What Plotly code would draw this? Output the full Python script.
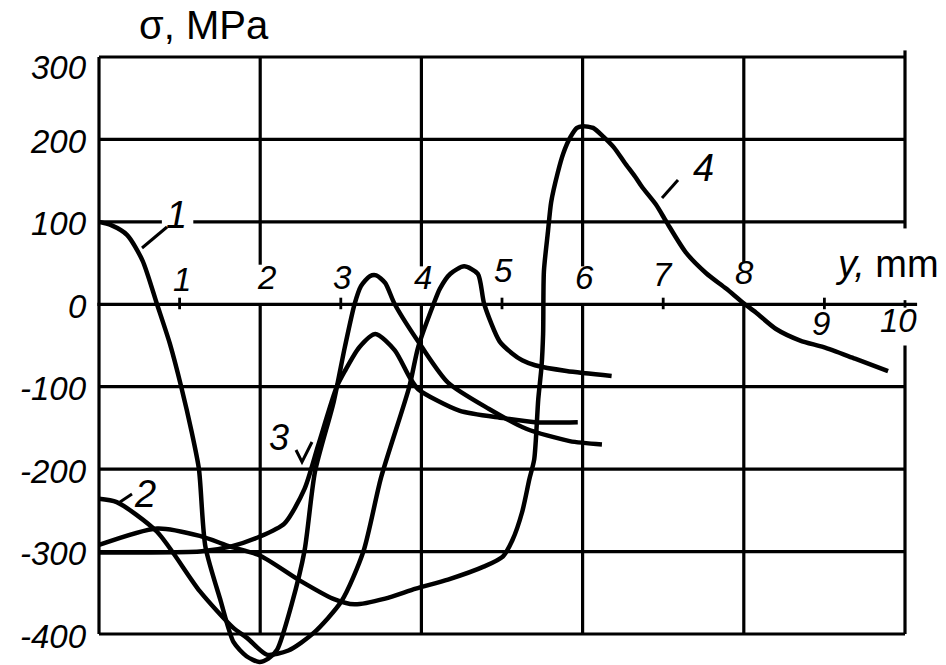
import plotly.graph_objects as go

# ---------------- data ----------------
c1_x = [0, 0.15, 0.35, 0.54, 0.72, 0.88, 1.02, 1.15, 1.24, 1.32, 1.51, 1.67, 1.83, 1.99, 2.1, 2.21,
        2.39, 2.55, 2.68, 2.91, 3.05, 3.17, 3.25, 3.36, 3.44, 3.55, 3.67, 4.0, 4.33, 4.84, 5.3,
        5.84, 6.24]
c1_y = [100, 96, 84, 53, 0, -48, -100, -155, -200, -294, -360, -410, -427, -434, -430, -419,
        -364, -299, -203, -119, -52, 0, 22, 34, 35, 26, 0, -51, -95, -127, -151,
        -166, -170]

c2_x = [0, 0.22, 0.72, 1.25, 1.66, 1.84, 2.08, 2.35, 2.66, 3.01, 3.28, 3.5, 3.85, 3.96, 4.15,
        4.23, 4.36, 4.53, 4.7, 4.78, 4.97, 5.13, 5.25, 5.41, 5.8, 6.36]
c2_y = [-236, -240, -276, -348, -392, -405, -425, -420, -399, -360, -300, -210, -100, -52, 0,
        19, 37, 46, 37, 0, -45, -60, -68, -74, -81, -87]

c3_x = [0, 0.5, 1.25, 1.63, 1.99, 2.3, 2.55, 2.72, 2.95, 3.05, 3.23, 3.43, 3.67, 3.85, 3.96,
        4.47, 5.01, 5.41, 5.94]
c3_y = [-301, -301, -300, -294, -282, -266, -224, -171, -100, -81, -52, -36, -56, -88, -103,
        -129, -138, -143, -143]

c4_x = [0, 0.72, 1.25, 1.63, 2.0, 2.49, 2.9, 3.17, 3.55, 3.93, 4.33, 4.78, 5.01, 5.13, 5.25,
        5.34, 5.4, 5.45, 5.49, 5.51, 5.52, 5.57, 5.61, 5.69, 5.76, 5.85, 5.93, 6.0, 6.13, 6.26,
        6.39, 6.52, 6.65, 6.74, 6.91, 7.04, 7.28, 7.53, 7.78, 7.99, 8.15, 8.4, 8.7, 8.99, 9.38, 9.79]
c4_y = [-292, -272, -281, -294, -305, -335, -357, -364, -357, -345, -334, -318, -306, -286, -252,
        -212, -188, -115, -76, -36, 40, 88, 124, 159, 183, 203, 214, 216, 214, 203,
        190, 172, 155, 142, 121, 100, 63, 38, 19, 2, -10, -30, -44, -52, -66, -81]

curves = [(c1_x, c1_y), (c2_x, c2_y), (c3_x, c3_y), (c4_x, c4_y)]

y_ticks = [300, 200, 100, 0, -100, -200, -300, -400]
y_tick_labels = ["300", "200", "100", "0", "-100", "-200", "-300", "-400"]
x_ticks = [1, 2, 3, 4, 5, 6, 7, 8, 9, 10]
x_tick_labels = ["1", "2", "3", "4", "5", "6", "7", "8", "9", "10"]

# ---------------- geometry helpers ----------------
W, H = 946, 665
X0PX, X10PX = 99, 905
Y300PX, YM400PX = 57, 634
sx = (X10PX - X0PX) / 10.0
sy = (YM400PX - Y300PX) / 700.0
x_range = [-X0PX / sx, (W - X0PX) / sx]
y_range = [300 - (H - Y300PX) / sy, 300 + Y300PX / sy]


def px(xp):
    return xp / W


def py(yp):
    return 1 - yp / H


FONT = "Liberation Sans, Arial, sans-serif"
INK = "black"

fig = go.Figure()
for cx, cy in curves:
    fig.add_trace(go.Scatter(x=cx, y=cy, mode="lines",
                             line=dict(color=INK, width=4.5, shape="spline", smoothing=0.7),
                             hoverinfo="skip", showlegend=False))

shapes = []


def seg(x0, y0, x1, y1, w=3.2, ref="data"):
    if ref == "data":
        shapes.append(dict(type="line", xref="x", yref="y", x0=x0, y0=y0, x1=x1, y1=y1,
                           line=dict(color=INK, width=w)))
    else:
        shapes.append(dict(type="line", xref="paper", yref="paper",
                           x0=px(x0), y0=py(y0), x1=px(x1), y1=py(y1),
                           line=dict(color=INK, width=w)))


# horizontal grid lines
for v in [300, 200, -100, -200, -300, -400]:
    seg(0, v, 10, v)
seg(0, 100, 0.78, 100)
seg(1.17, 100, 10, 100)
seg(-0.02, 0, 10.15, 0)
# vertical grid lines
seg(0, 300, 0, -400)
for xv, top in [(2, 48), (4, 46), (6, 46), (8, 50)]:
    seg(xv, 300, xv, top)
    seg(xv, 0, xv, -400)
seg(10, 308, 10, 92)
seg(10, -50, 10, -400)
# odd ticks on the zero line
for xv in [1, 3, 5, 7, 9]:
    seg(xv, 8, xv, -6, w=2.8)
seg(10, 5, 10, -4, w=2.8)

# leader lines for curve labels (pixel positions)
seg(142, 248, 167, 227, w=3, ref="paper")
seg(120, 502, 132, 494, w=3, ref="paper")
seg(662, 198, 678, 180, w=3, ref="paper")
shapes.append(dict(type="path", xref="paper", yref="paper",
                   path=f"M {px(296)},{py(450)} L {px(302)},{py(462)} L {px(312)},{py(442)}",
                   line=dict(color=INK, width=3)))

annotations = []


def label(text, xp, yp, size, xanchor="center", italic=True):
    t = f"<i>{text}</i>" if italic else text
    annotations.append(dict(text=t, xref="paper", yref="paper", x=px(xp), y=py(yp),
                            xanchor=xanchor, yanchor="middle", showarrow=False,
                            font=dict(family=FONT, size=size, color=INK)))


# y tick labels
for v, t in zip(y_ticks, y_tick_labels):
    yp = Y300PX + (300 - v) * sy
    if v == 300:
        yp += 8
    label(t, 89, yp + 2, 33, xanchor="right")

# x tick labels
x_label_px = {1: (182, 279), 2: (266, 277), 3: (342, 277), 4: (423, 277), 5: (503, 270),
              6: (584, 277), 7: (663, 275), 8: (744, 273), 9: (821, 324), 10: (898, 320)}
for v, t in zip(x_ticks, x_tick_labels):
    xp, yp = x_label_px[v]
    label(t, xp, yp, 33)

# curve labels
label("1", 176, 215, 38)
label("2", 145, 494, 38)
label("3", 279, 437, 36)
label("4", 703, 168, 38)

# axis titles
label("σ, MPa", 204, 25, 40, italic=False)
annotations.append(dict(text="<i>y,</i> mm", xref="paper", yref="paper", x=px(887), y=py(264),
                        xanchor="center", yanchor="middle", showarrow=False,
                        font=dict(family=FONT, size=38, color=INK)))

fig.update_layout(
    width=W, height=H,
    margin=dict(l=0, r=0, t=0, b=0),
    paper_bgcolor="white", plot_bgcolor="white",
    xaxis=dict(range=x_range, visible=False, fixedrange=True),
    yaxis=dict(range=y_range, visible=False, fixedrange=True),
    shapes=shapes, annotations=annotations,
    showlegend=False,
)

fig.write_html("out.html")
